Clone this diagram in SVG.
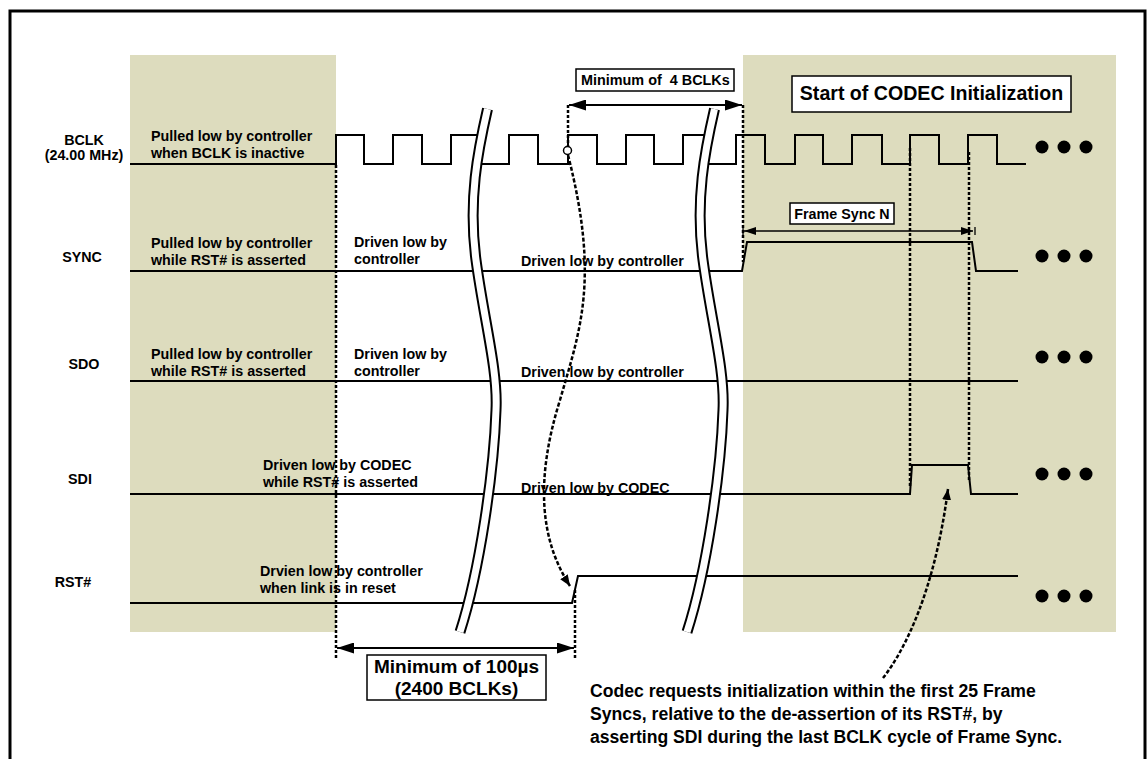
<svg xmlns="http://www.w3.org/2000/svg" width="1148" height="759" viewBox="0 0 1148 759">
<defs>
<style>
text { font-family: "Liberation Sans", Arial, sans-serif; font-weight: bold; fill: #000; }
.lbl { font-size: 14.3px; }
.big { font-size: 19px; }
.note { font-size: 17.6px; }
.sig { fill: none; stroke: #000; stroke-width: 2; }
.shade { fill: #dddcbe; }
.dot { stroke: #000; stroke-width: 2.5; stroke-dasharray: 3 2; fill: none; }
.curve { stroke: #000; stroke-width: 2.5; stroke-dasharray: 4 2; fill: none; }
.box { fill: #fff; stroke: #000; stroke-width: 1.5; }
.dim { stroke: #000; stroke-width: 2; fill: none; }
.dimt { stroke: #000; stroke-width: 1.3; fill: none; }
.brk-o { stroke: #000; stroke-width: 11; fill: none; }
.brk-i { stroke: #fff; stroke-width: 7; fill: none; }
.ell { fill: #000; }
</style>
<marker id="ah" viewBox="0 0 17 11" refX="17" refY="5.5" markerWidth="17" markerHeight="11" markerUnits="userSpaceOnUse" orient="auto-start-reverse"><path d="M0,0 L17,5.5 L0,11 Z" fill="#000"/></marker>
<marker id="ahs" viewBox="0 0 12 8" refX="12" refY="4" markerWidth="12" markerHeight="8" markerUnits="userSpaceOnUse" orient="auto-start-reverse"><path d="M0,0 L12,4 L0,8 Z" fill="#000"/></marker>
<marker id="ahc" viewBox="0 0 11 9" refX="11" refY="4.5" markerWidth="11" markerHeight="9" markerUnits="userSpaceOnUse" orient="auto"><path d="M0,0 L11,4.5 L0,9 Z" fill="#000"/></marker>
</defs>

<rect x="0" y="0" width="1148" height="759" fill="#fff"/>
<rect x="10" y="11" width="1135" height="760" fill="none" stroke="#000" stroke-width="3"/>

<g id="regions">
<rect class="shade" x="130" y="55" width="206" height="577"/>
<rect class="shade" x="743" y="55" width="373" height="577"/>
</g>

<g id="sig-bclk">
<text class="lbl" x="84" y="145" text-anchor="middle">BCLK</text>
<text class="lbl" x="84" y="160" text-anchor="middle">(24.00 MHz)</text>
<text class="lbl" x="151" y="141">Pulled low by controller</text>
<text class="lbl" x="151" y="158">when BCLK is inactive</text>
<path class="sig" d="M130,164 H336 V135 H364 V164 H393 V135 H422 V164 H451 V135 H481 M482,164 H509 V135 H538 V164 H568 V135 H597 V164 H626 V135 H654 V164 H683 V135 H708 M708,164 H736 V135 H765 V164 H795 V135 H823 V164 H852 V135 H882 V164 H910 V135 H939 V164 H968 V135 H997 V164 H1026"/>
<circle class="ell" cx="1042" cy="147" r="6.5"/><circle class="ell" cx="1064" cy="147" r="6.5"/><circle class="ell" cx="1086" cy="147" r="6.5"/>
</g>

<g id="sig-sync">
<text class="lbl" x="82" y="262" text-anchor="middle">SYNC</text>
<text class="lbl" x="151" y="248">Pulled low by controller</text>
<text class="lbl" x="151" y="265">while RST# is asserted</text>
<text class="lbl" x="354" y="247">Driven low by</text>
<text class="lbl" x="354" y="264">controller</text>
<text class="lbl" x="521" y="266">Driven low by controller</text>
<path class="sig" d="M130,271 H742 L747,242 H972 L976,271 H1018"/>
<circle class="ell" cx="1042" cy="256" r="6.5"/><circle class="ell" cx="1064" cy="256" r="6.5"/><circle class="ell" cx="1086" cy="256" r="6.5"/>
</g>

<g id="sig-sdo">
<text class="lbl" x="84" y="369" text-anchor="middle">SDO</text>
<text class="lbl" x="151" y="359">Pulled low by controller</text>
<text class="lbl" x="151" y="376">while RST# is asserted</text>
<text class="lbl" x="354" y="359">Driven low by</text>
<text class="lbl" x="354" y="376">controller</text>
<text class="lbl" x="521" y="377">Driven low by controller</text>
<path class="sig" d="M130,381 H1018"/>
<circle class="ell" cx="1042" cy="357" r="6.5"/><circle class="ell" cx="1064" cy="357" r="6.5"/><circle class="ell" cx="1086" cy="357" r="6.5"/>
</g>

<g id="sig-sdi">
<text class="lbl" x="80" y="484" text-anchor="middle">SDI</text>
<text class="lbl" x="263" y="470">Driven low by CODEC</text>
<text class="lbl" x="263" y="487">while RST# is asserted</text>
<text class="lbl" x="521" y="493">Driven low by CODEC</text>
<path class="sig" d="M130,494 H910 L912,465 H968 L971,494 H1018"/>
<circle class="ell" cx="1042" cy="474" r="6.5"/><circle class="ell" cx="1064" cy="474" r="6.5"/><circle class="ell" cx="1086" cy="474" r="6.5"/>
</g>

<g id="sig-rst">
<text class="lbl" x="73" y="587" text-anchor="middle">RST#</text>
<text class="lbl" x="260" y="576">Drvien low by controller</text>
<text class="lbl" x="260" y="593">when link is in reset</text>
<path class="sig" d="M130,603 H572 L578,576 H1018"/>
<circle class="ell" cx="1042" cy="596" r="6.5"/><circle class="ell" cx="1064" cy="596" r="6.5"/><circle class="ell" cx="1086" cy="596" r="6.5"/>
</g>

<g id="breaks">
<path class="brk-o" d="M487.5,109 C478,150 468,200 476,260 C484,320 498,370 496,410 C494,470 480,570 460,632"/>
<path class="brk-i" d="M487.5,109 C478,150 468,200 476,260 C484,320 498,370 496,410 C494,470 480,570 460,632"/>
<g transform="translate(227,0)">
<path class="brk-o" d="M487.5,109 C478,150 468,200 476,260 C484,320 498,370 496,410 C494,470 480,570 460,632"/>
<path class="brk-i" d="M487.5,109 C478,150 468,200 476,260 C484,320 498,370 496,410 C494,470 480,570 460,632"/>
</g>
</g>

<g id="connectors">
<path class="dot" d="M336,165 V660"/>
<path class="dot" d="M568,105 V146"/>
<path class="dot" d="M575,590 V658"/>
<path class="dot" d="M743,105 V262"/>
<path class="dot" d="M910,148 V486"/>
<path class="dot" d="M969,152 V482"/>
<path class="curve" d="M568,155 C600,280 580,330 560,400 C535,480 540,540 570,586" marker-end="url(#ahc)"/>
<path class="curve" d="M883,678 C905,650 935,590 948,489" marker-end="url(#ahc)"/>
<circle cx="567.5" cy="150.5" r="4" fill="#fff" stroke="#000" stroke-width="1.5"/>
<path class="dim" d="M569,105 H742" marker-start="url(#ah)" marker-end="url(#ah)"/>
<path class="dim" d="M337,648 H574" marker-start="url(#ah)" marker-end="url(#ah)"/>
<path class="dimt" d="M744,231 H973" marker-start="url(#ahs)" marker-end="url(#ahs)"/>
<path class="dimt" d="M743,227 V235 M975,227 V235"/>
</g>

<g id="label-min4">
<rect class="box" x="576" y="69" width="158" height="22"/>
<text x="581" y="85" style="white-space:pre;font-size:14.4px">Minimum of  4 BCLKs</text>
</g>

<g id="label-start">
<rect class="box" x="792" y="76" width="279" height="36" stroke-width="2"/>
<text x="931.5" y="100" text-anchor="middle" style="font-size:19.6px">Start of CODEC Initialization</text>
</g>

<g id="label-frame">
<rect class="box" x="790" y="203" width="104" height="21"/>
<text class="lbl" x="842" y="218.5" text-anchor="middle">Frame Sync N</text>
</g>

<g id="label-min100">
<rect class="box" x="367" y="655" width="179" height="45"/>
<text class="big" x="456.5" y="673" text-anchor="middle">Minimum of 100µs</text>
<text class="big" x="456.5" y="695" text-anchor="middle">(2400 BCLKs)</text>
</g>

<g id="note">
<text class="note" x="590" y="697">Codec requests initialization within the first 25 Frame</text>
<text class="note" x="590" y="720">Syncs, relative to the de-assertion of its RST#, by</text>
<text class="note" x="590" y="743">asserting SDI during the last BCLK cycle of Frame Sync.</text>
</g>
</svg>
